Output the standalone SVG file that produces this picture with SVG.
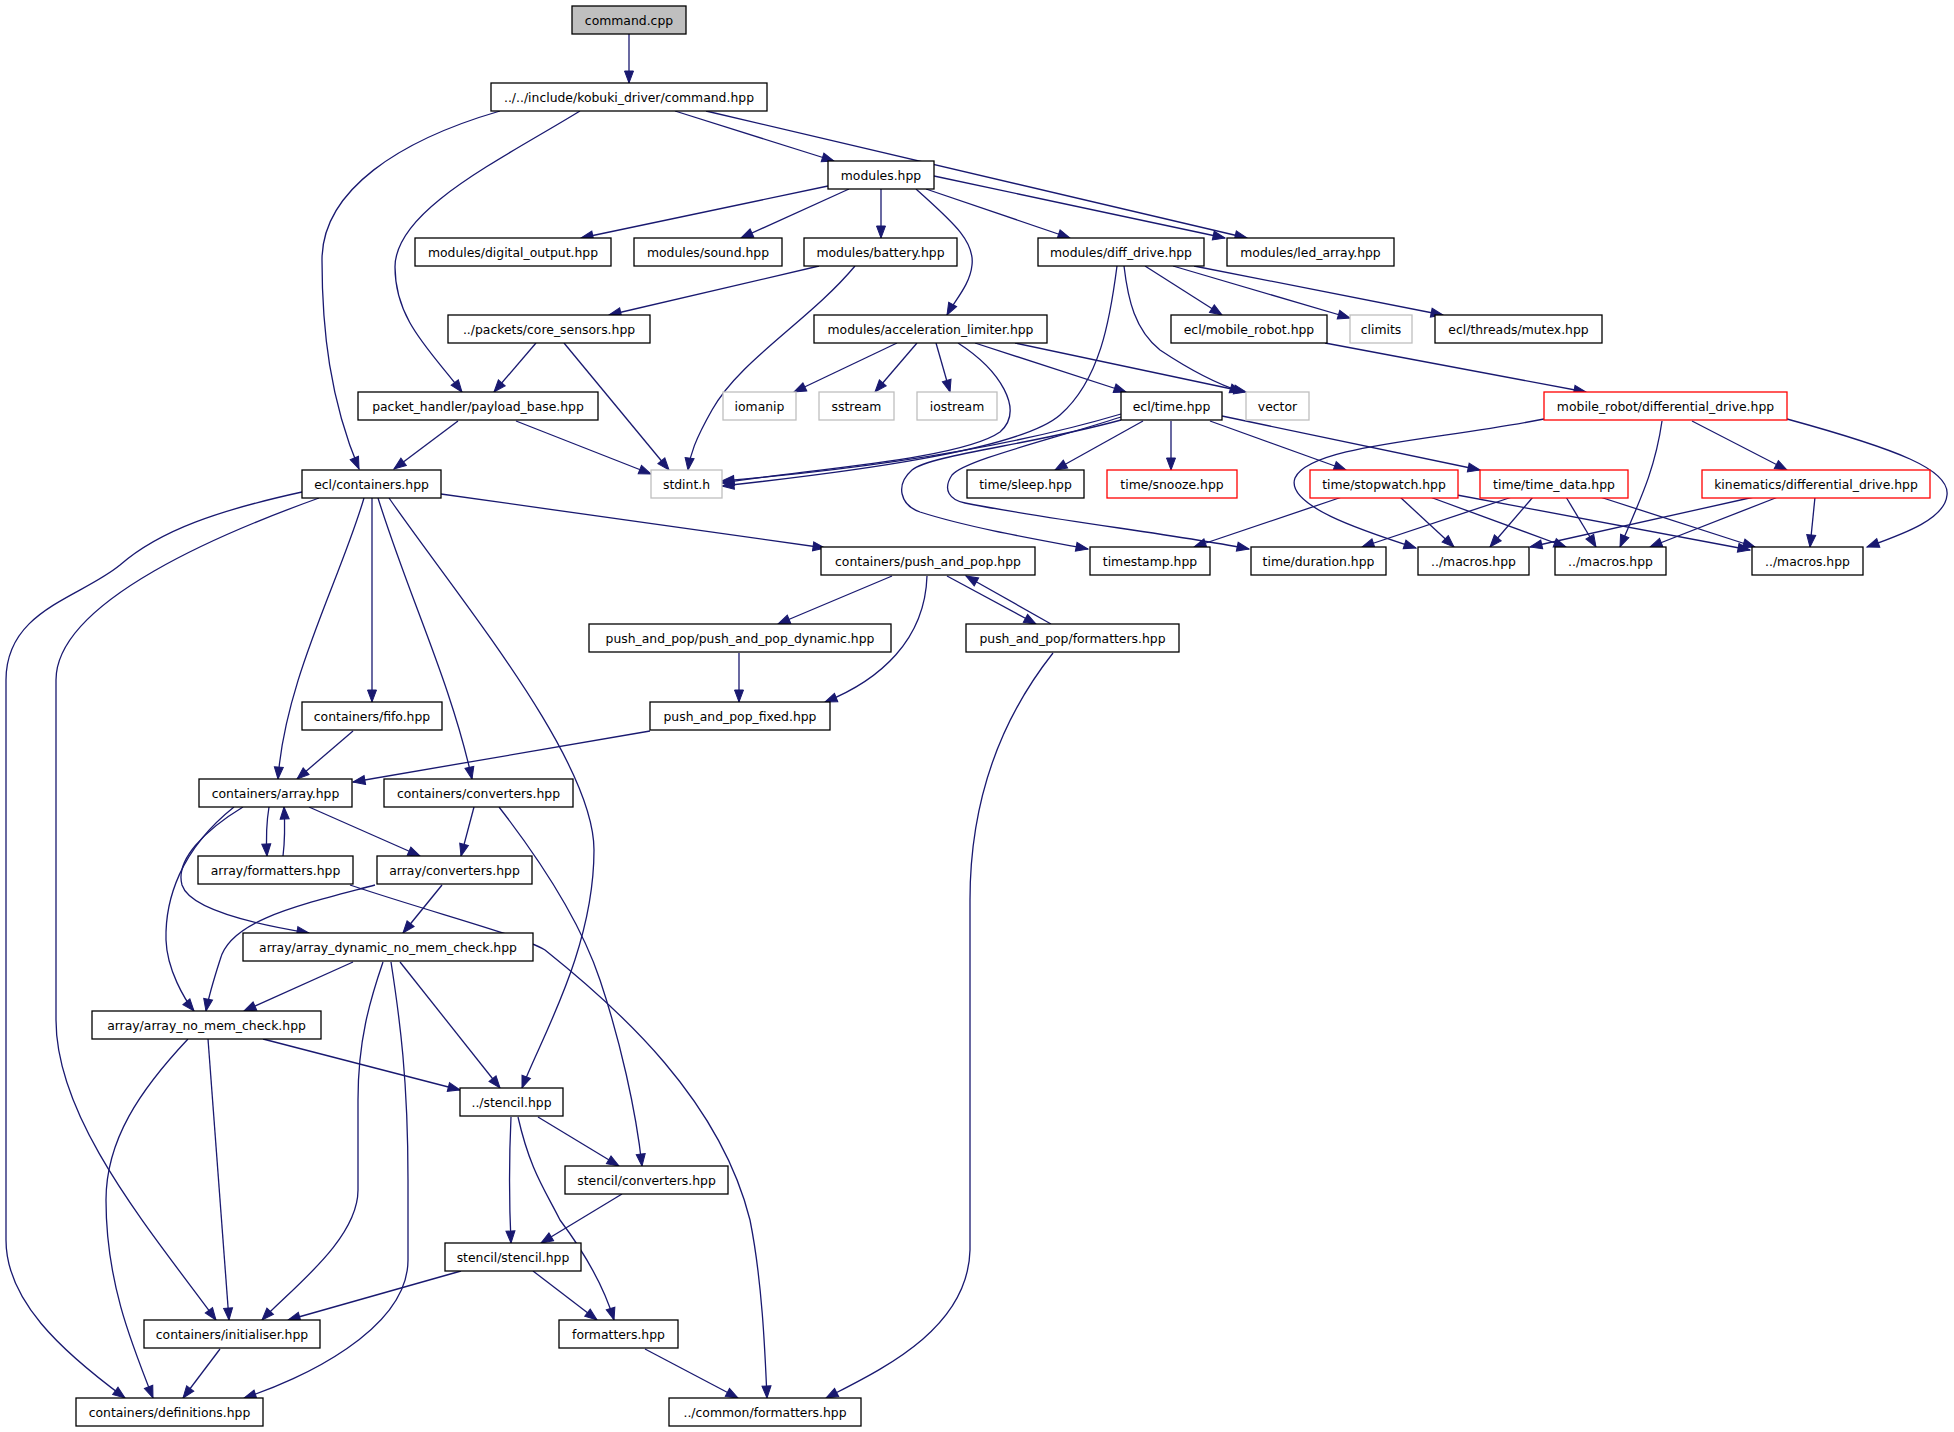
<svg xmlns="http://www.w3.org/2000/svg" width="1954" height="1432" viewBox="0 0 1954 1432">
<style>
.n rect{fill:#fff;stroke:#000;stroke-width:1.3}
.g rect{stroke:#bfbfbf}
.r rect{stroke:#ff0000}
.root rect{fill:#bfbfbf}
text{font-family:"DejaVu Sans","Liberation Sans",Arial,sans-serif;font-size:12.4px;fill:#000;text-anchor:middle}
.e path{fill:none;stroke:#191970;stroke-width:1.3;marker-end:url(#ah)}
</style>
<defs>
<marker id="ah" markerUnits="userSpaceOnUse" markerWidth="13" markerHeight="10" refX="12" refY="4.5" orient="auto" overflow="visible">
<path d="M0,0 L12,4.5 L0,9 z" fill="#191970" stroke="#191970" stroke-width="1"/>
</marker>
</defs>
<rect width="1954" height="1432" fill="#fff"/>
<g id="edges" class="e">
<path d="M629,34 L629,83"/>
<path d="M500,111 C400,140 322,190 322,260 C322,330 330,400 359,469"/>
<path d="M580,111 C500,160 395,210 395,267 C395,320 430,350 462,392"/>
<path d="M675,111 L834,161"/>
<path d="M706,111 L1247,238"/>
<path d="M828,186 L581,238"/>
<path d="M849,189 L741,238"/>
<path d="M881,189 L881,238"/>
<path d="M916,189 C950,220 975,240 972,265 C970,285 955,300 947,315"/>
<path d="M926,189 L1070,238"/>
<path d="M934,176 L1225,238"/>
<path d="M819,266 L609,315"/>
<path d="M855,266 C810,320 740,360 712,410 C695,440 690,455 688,470"/>
<path d="M536,343 L494,392"/>
<path d="M564,343 L669,470"/>
<path d="M897,343 L794,392"/>
<path d="M917,343 L875,392"/>
<path d="M936,343 L950,392"/>
<path d="M958,343 C1000,370 1025,410 1000,432 C960,460 800,470 722,483"/>
<path d="M975,343 L1126,392"/>
<path d="M1015,343 L1246,392"/>
<path d="M458,421 L394,469"/>
<path d="M516,421 L651,474"/>
<path d="M1117,266 C1110,320 1100,380 1060,415 C1020,450 850,472 722,486"/>
<path d="M1124,266 C1128,300 1135,330 1160,350 C1190,370 1220,385 1242,392"/>
<path d="M1145,266 L1222,315"/>
<path d="M1173,266 L1350,318"/>
<path d="M1194,266 L1443,315"/>
<path d="M1325,343 L1586,392"/>
<path d="M1121,414 C1000,450 850,470 722,481"/>
<path d="M1143,421 L1055,470"/>
<path d="M1171,421 L1171,470"/>
<path d="M1210,421 L1346,470"/>
<path d="M1222,416 L1480,470"/>
<path d="M1121,420 C1030,445 930,455 912,470 C895,485 900,505 920,512 C970,528 1040,540 1088,549"/>
<path d="M1121,417 C1050,440 965,460 952,475 C942,490 950,500 965,503 C1050,520 1180,535 1249,549"/>
<path d="M1342,497 L1194,547"/>
<path d="M1400,497 L1454,547"/>
<path d="M1430,497 L1566,547"/>
<path d="M1457,495 L1750,550"/>
<path d="M1512,497 L1362,547"/>
<path d="M1533,497 L1490,547"/>
<path d="M1566,497 L1596,547"/>
<path d="M1600,497 L1755,547"/>
<path d="M1544,419 C1440,440 1310,445 1295,478 C1285,505 1360,530 1416,548"/>
<path d="M1662,421 C1655,470 1640,500 1620,547"/>
<path d="M1692,421 L1787,470"/>
<path d="M1787,419 C1900,450 1950,470 1947,495 C1945,520 1900,535 1867,547"/>
<path d="M1754,497 L1530,547"/>
<path d="M1778,497 L1650,547"/>
<path d="M1815,497 L1810,547"/>
<path d="M441,494 L825,548"/>
<path d="M302,492 C220,510 160,530 120,565 C80,598 6,610 6,680 L6,1240 C6,1300 60,1350 125,1398"/>
<path d="M319,498 C230,530 56,600 56,680 L56,1020 C56,1120 150,1230 216,1320"/>
<path d="M364,498 C340,580 285,680 278,779"/>
<path d="M372,498 L372,702"/>
<path d="M378,498 C410,600 450,680 472,779"/>
<path d="M389,498 C460,600 594,760 594,850 C594,950 540,1040 522,1088"/>
<path d="M892,576 L778,624"/>
<path d="M927,576 C925,640 880,680 825,702"/>
<path d="M947,576 L1036,624"/>
<path d="M1051,624 L966,576"/>
<path d="M1053,653 C1000,720 970,800 970,900 L970,1250 C968,1330 880,1370 826,1398"/>
<path d="M739,653 L739,702"/>
<path d="M353,731 L297,779"/>
<path d="M650,731 L353,782"/>
<path d="M269,807 C266,825 266,840 267,856"/>
<path d="M283,856 C285,840 285,825 284,807"/>
<path d="M309,807 L420,856"/>
<path d="M243,807 C205,830 175,860 182,885 C190,910 260,925 309,933"/>
<path d="M234,807 C180,850 165,900 166,940 C167,970 185,1000 194,1011"/>
<path d="M474,807 L461,856"/>
<path d="M499,807 C540,860 580,920 600,980 C620,1040 636,1110 642,1166"/>
<path d="M350,885 C440,915 520,935 545,950 C620,1010 720,1100 750,1220 C762,1280 765,1350 767,1398"/>
<path d="M442,885 L403,933"/>
<path d="M375,885 C300,905 230,920 220,960 C212,985 208,1000 206,1011"/>
<path d="M353,962 L244,1011"/>
<path d="M383,962 C370,1000 358,1040 358,1100 L358,1190 C358,1240 290,1290 262,1320"/>
<path d="M391,962 C400,1020 408,1080 408,1180 L408,1260 C408,1330 300,1380 244,1398"/>
<path d="M400,962 L500,1088"/>
<path d="M263,1039 L460,1090"/>
<path d="M208,1039 L229,1320"/>
<path d="M188,1039 C140,1090 106,1140 106,1200 C106,1280 130,1340 153,1398"/>
<path d="M538,1117 L619,1166"/>
<path d="M511,1117 C509,1160 509,1200 511,1243"/>
<path d="M518,1117 C530,1170 545,1190 560,1220 C590,1260 605,1290 614,1320"/>
<path d="M622,1194 L541,1243"/>
<path d="M461,1271 L288,1320"/>
<path d="M533,1271 L597,1320"/>
<path d="M220,1349 L183,1398"/>
<path d="M645,1349 L738,1398"/>
</g>
<g id="n_command_cpp" class="n root"><rect x="572" y="6" width="114" height="28"/><text x="629" y="24.5">command.cpp</text></g>
<g id="n_command_hpp" class="n"><rect x="491" y="83" width="276" height="28"/><text x="629" y="101.5">../../include/kobuki_driver/command.hpp</text></g>
<g id="n_modules" class="n"><rect x="828" y="161" width="106" height="28"/><text x="881" y="179.5">modules.hpp</text></g>
<g id="n_digital_output" class="n"><rect x="415" y="238" width="196" height="28"/><text x="513" y="256.5">modules/digital_output.hpp</text></g>
<g id="n_sound" class="n"><rect x="634" y="238" width="148" height="28"/><text x="708" y="256.5">modules/sound.hpp</text></g>
<g id="n_battery" class="n"><rect x="804" y="238" width="153" height="28"/><text x="880.5" y="256.5">modules/battery.hpp</text></g>
<g id="n_diff_drive" class="n"><rect x="1038" y="238" width="166" height="28"/><text x="1121" y="256.5">modules/diff_drive.hpp</text></g>
<g id="n_led_array" class="n"><rect x="1227" y="238" width="167" height="28"/><text x="1310.5" y="256.5">modules/led_array.hpp</text></g>
<g id="n_core_sensors" class="n"><rect x="448" y="315" width="202" height="28"/><text x="549" y="333.5">../packets/core_sensors.hpp</text></g>
<g id="n_acc_limiter" class="n"><rect x="814" y="315" width="233" height="28"/><text x="930.5" y="333.5">modules/acceleration_limiter.hpp</text></g>
<g id="n_mobile_robot" class="n"><rect x="1171" y="315" width="156" height="28"/><text x="1249" y="333.5">ecl/mobile_robot.hpp</text></g>
<g id="n_climits" class="n g"><rect x="1350" y="315" width="62" height="28"/><text x="1381" y="333.5">climits</text></g>
<g id="n_mutex" class="n"><rect x="1435" y="315" width="167" height="28"/><text x="1518.5" y="333.5">ecl/threads/mutex.hpp</text></g>
<g id="n_payload_base" class="n"><rect x="358" y="392" width="240" height="28"/><text x="478" y="410.5">packet_handler/payload_base.hpp</text></g>
<g id="n_iomanip" class="n g"><rect x="723" y="392" width="73" height="28"/><text x="759.5" y="410.5">iomanip</text></g>
<g id="n_sstream" class="n g"><rect x="819" y="392" width="75" height="28"/><text x="856.5" y="410.5">sstream</text></g>
<g id="n_iostream" class="n g"><rect x="917" y="392" width="80" height="28"/><text x="957" y="410.5">iostream</text></g>
<g id="n_ecl_time" class="n"><rect x="1121" y="392" width="101" height="28"/><text x="1171.5" y="410.5">ecl/time.hpp</text></g>
<g id="n_vector" class="n g"><rect x="1246" y="392" width="63" height="28"/><text x="1277.5" y="410.5">vector</text></g>
<g id="n_mob_diff" class="n r"><rect x="1544" y="392" width="243" height="28"/><text x="1665.5" y="410.5">mobile_robot/differential_drive.hpp</text></g>
<g id="n_containers" class="n"><rect x="302" y="470" width="139" height="28"/><text x="371.5" y="488.5">ecl/containers.hpp</text></g>
<g id="n_stdint" class="n g"><rect x="651" y="470" width="71" height="28"/><text x="686.5" y="488.5">stdint.h</text></g>
<g id="n_sleep" class="n"><rect x="967" y="470" width="117" height="28"/><text x="1025.5" y="488.5">time/sleep.hpp</text></g>
<g id="n_snooze" class="n r"><rect x="1107" y="470" width="130" height="28"/><text x="1172" y="488.5">time/snooze.hpp</text></g>
<g id="n_stopwatch" class="n r"><rect x="1310" y="470" width="148" height="28"/><text x="1384" y="488.5">time/stopwatch.hpp</text></g>
<g id="n_time_data" class="n r"><rect x="1480" y="470" width="148" height="28"/><text x="1554" y="488.5">time/time_data.hpp</text></g>
<g id="n_kinematics" class="n r"><rect x="1702" y="470" width="228" height="28"/><text x="1816" y="488.5">kinematics/differential_drive.hpp</text></g>
<g id="n_push_and_pop" class="n"><rect x="821" y="547" width="214" height="28"/><text x="928" y="565.5">containers/push_and_pop.hpp</text></g>
<g id="n_timestamp" class="n"><rect x="1090" y="547" width="120" height="28"/><text x="1150" y="565.5">timestamp.hpp</text></g>
<g id="n_duration" class="n"><rect x="1251" y="547" width="135" height="28"/><text x="1318.5" y="565.5">time/duration.hpp</text></g>
<g id="n_macros1" class="n"><rect x="1418" y="547" width="111" height="28"/><text x="1473.5" y="565.5">../macros.hpp</text></g>
<g id="n_macros2" class="n"><rect x="1555" y="547" width="111" height="28"/><text x="1610.5" y="565.5">../macros.hpp</text></g>
<g id="n_macros3" class="n"><rect x="1752" y="547" width="111" height="28"/><text x="1807.5" y="565.5">../macros.hpp</text></g>
<g id="n_pp_dynamic" class="n"><rect x="589" y="624" width="302" height="28"/><text x="740" y="642.5">push_and_pop/push_and_pop_dynamic.hpp</text></g>
<g id="n_pp_formatters" class="n"><rect x="966" y="624" width="213" height="28"/><text x="1072.5" y="642.5">push_and_pop/formatters.hpp</text></g>
<g id="n_fifo" class="n"><rect x="302" y="702" width="140" height="28"/><text x="372" y="720.5">containers/fifo.hpp</text></g>
<g id="n_pp_fixed" class="n"><rect x="650" y="702" width="180" height="28"/><text x="740" y="720.5">push_and_pop_fixed.hpp</text></g>
<g id="n_array" class="n"><rect x="199" y="779" width="153" height="28"/><text x="275.5" y="797.5">containers/array.hpp</text></g>
<g id="n_converters" class="n"><rect x="384" y="779" width="189" height="28"/><text x="478.5" y="797.5">containers/converters.hpp</text></g>
<g id="n_array_fmt" class="n"><rect x="198" y="856" width="155" height="28"/><text x="275.5" y="874.5">array/formatters.hpp</text></g>
<g id="n_array_conv" class="n"><rect x="377" y="856" width="155" height="28"/><text x="454.5" y="874.5">array/converters.hpp</text></g>
<g id="n_array_dyn" class="n"><rect x="243" y="933" width="290" height="28"/><text x="388" y="951.5">array/array_dynamic_no_mem_check.hpp</text></g>
<g id="n_array_nomem" class="n"><rect x="92" y="1011" width="229" height="28"/><text x="206.5" y="1029.5">array/array_no_mem_check.hpp</text></g>
<g id="n_stencil" class="n"><rect x="460" y="1088" width="103" height="28"/><text x="511.5" y="1106.5">../stencil.hpp</text></g>
<g id="n_stencil_conv" class="n"><rect x="565" y="1166" width="163" height="28"/><text x="646.5" y="1184.5">stencil/converters.hpp</text></g>
<g id="n_stencil_stencil" class="n"><rect x="445" y="1243" width="136" height="28"/><text x="513" y="1261.5">stencil/stencil.hpp</text></g>
<g id="n_initialiser" class="n"><rect x="144" y="1320" width="176" height="28"/><text x="232" y="1338.5">containers/initialiser.hpp</text></g>
<g id="n_formatters" class="n"><rect x="559" y="1320" width="119" height="28"/><text x="618.5" y="1338.5">formatters.hpp</text></g>
<g id="n_definitions" class="n"><rect x="76" y="1398" width="187" height="28"/><text x="169.5" y="1416.5">containers/definitions.hpp</text></g>
<g id="n_common_fmt" class="n"><rect x="669" y="1398" width="192" height="28"/><text x="765" y="1416.5">../common/formatters.hpp</text></g>
</svg>
